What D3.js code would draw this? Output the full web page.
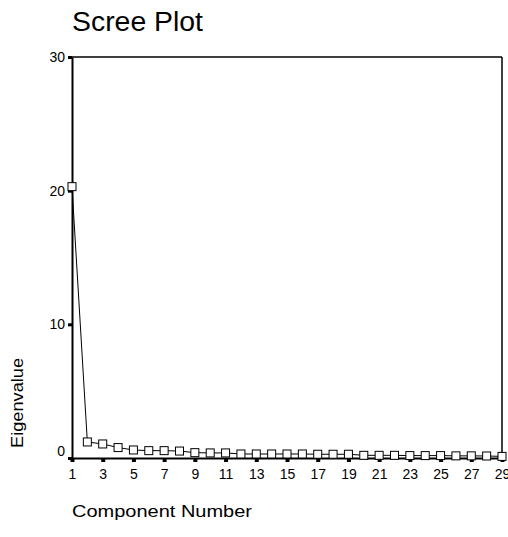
<!DOCTYPE html>
<html><head><meta charset="utf-8">
<script src="https://cdn.jsdelivr.net/npm/d3@7"></script>
<style>
body{margin:0;background:#fff;}
text{font-family:"Liberation Sans",Arial,sans-serif;fill:#000;}
</style></head>
<body><svg id="chart" width="508" height="537"></svg>
<script>
const components = d3.range(1, 30);
const eigenvalues = [20.3, 1.2, 1.05, 0.78, 0.6, 0.55, 0.55, 0.52, 0.4, 0.38, 0.38, 0.3, 0.3,
  0.3, 0.3, 0.3, 0.28, 0.28, 0.28, 0.2, 0.2, 0.2, 0.18, 0.18, 0.18, 0.16, 0.16, 0.15, 0.12];
const yTicks = [0, 10, 20, 30];
const xTicks = d3.range(1, 30, 2);

const svg = d3.select("#chart");
const mL = 72, mR = 502, mT = 57, mB = 458;
const x = d3.scaleLinear().domain([1, 29]).range([mL, mR]);
const y = d3.scaleLinear().domain([0, 30]).range([mB, mT]);

svg.append("text").attr("x", 72).attr("y", 31).attr("font-size", 27)
  .attr("textLength", 131).attr("lengthAdjust", "spacingAndGlyphs").text("Scree Plot");

// frame
svg.append("line").attr("x1", mL).attr("x2", mR).attr("y1", mT).attr("y2", mT)
  .attr("stroke", "#000").attr("stroke-width", 1.5);
svg.append("line").attr("x1", mR).attr("x2", mR).attr("y1", mT).attr("y2", mB)
  .attr("stroke", "#000").attr("stroke-width", 1.5);

// axes
const yAxis = d3.axisLeft(y).tickValues(yTicks).tickSize(0).tickPadding(7).tickFormat(d3.format("d"));
const gy = svg.append("g").attr("transform", `translate(${mL},0)`).call(yAxis);
gy.select(".domain").attr("stroke-width", 2);
gy.selectAll("text").attr("font-size", 14).attr("font-family", null)
  .attr("dy", d => d === 0 ? "-0.2em" : "0.32em");
gy.selectAll(".tick").append("rect").attr("x", -4).attr("y", -1.5).attr("width", 4).attr("height", 3).attr("fill", "#000");

const xAxis = d3.axisBottom(x).tickValues(xTicks).tickSize(0).tickPadding(11).tickFormat(d3.format("d"));
const gx = svg.append("g").attr("transform", `translate(0,${mB})`).call(xAxis);
gx.select(".domain").attr("stroke-width", 2);
gx.selectAll("text").attr("font-size", 14).attr("font-family", null);
gx.selectAll(".tick").append("rect").attr("x", -2).attr("y", 0).attr("width", 4).attr("height", 4).attr("fill", "#000");

// line + markers
const pts = components.map((c, i) => [c, eigenvalues[i]]);
svg.append("path").datum(pts)
  .attr("d", d3.line().x(d => x(d[0])).y(d => y(d[1])))
  .attr("fill", "none").attr("stroke", "#000").attr("stroke-width", 1);
svg.append("g").selectAll("rect").data(pts).join("rect")
  .attr("x", d => x(d[0]) - 4).attr("y", d => y(d[1]) - 4)
  .attr("width", 8).attr("height", 8)
  .attr("fill", "#fff").attr("stroke", "#000").attr("stroke-width", 1);

svg.append("text").attr("transform", "translate(23,403) rotate(-90)")
  .attr("text-anchor", "middle").attr("font-size", 17)
  .attr("textLength", 90).attr("lengthAdjust", "spacingAndGlyphs").text("Eigenvalue");
svg.append("text").attr("x", 72).attr("y", 517).attr("font-size", 17)
  .attr("textLength", 180).attr("lengthAdjust", "spacingAndGlyphs").text("Component Number");
</script></body></html>
